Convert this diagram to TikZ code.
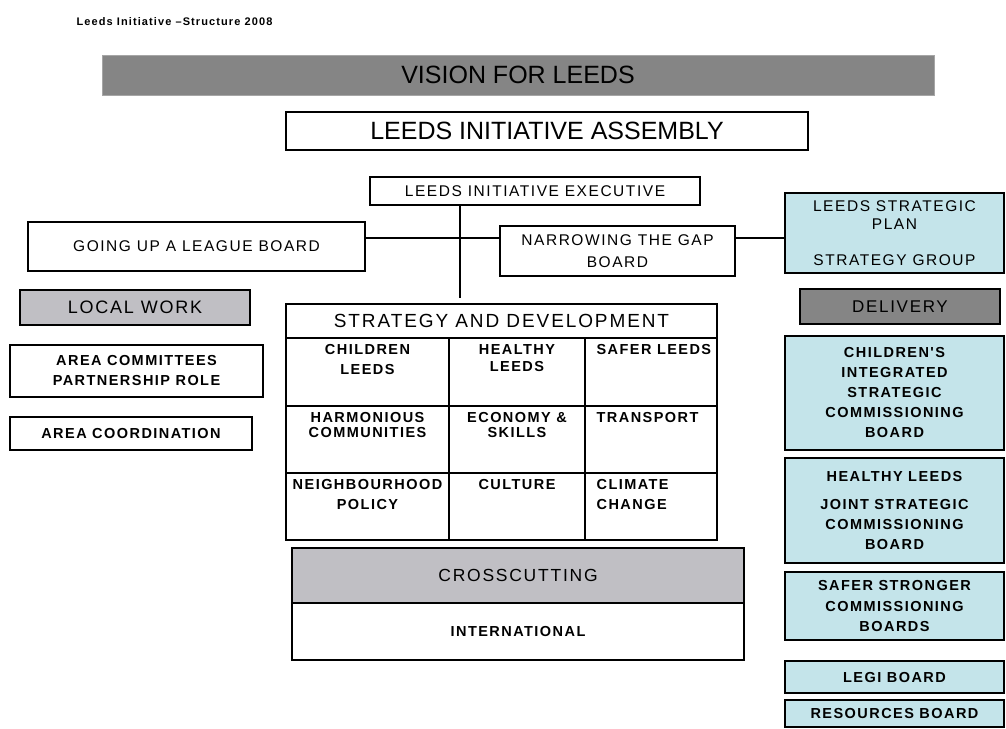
\documentclass[tikz,border=0pt]{standalone}
\usepackage{fontspec}
\setmainfont{Liberation Sans}
\newfontfamily\lsfont[LetterSpace=10]{Liberation Sans}
\definecolor{visiongrey}{RGB}{133,133,133}
\definecolor{palegrey}{RGB}{192,191,196}
\definecolor{paleblue}{RGB}{196,228,234}
\tikzset{
  bigtext/.style={font=\fontsize{25}{30}\selectfont},
  midtext/.style={font=\lsfont\fontsize{15.5}{22}\selectfont},
  headtext/.style={font=\lsfont\fontsize{17.5}{21}\selectfont},
  smalltext/.style={font=\lsfont\bfseries\fontsize{14.5}{20}\selectfont},
  plainbox/.style={draw=black, line width=1.2pt, fill=white, inner sep=0pt, align=center},
  greybox/.style={plainbox, fill=palegrey},
  darkbox/.style={plainbox, fill=visiongrey},
  bluebox/.style={plainbox, fill=paleblue, smalltext, minimum width=219pt},
  cellbox/.style={plainbox},
  celltext/.style={smalltext, align=center, anchor=north, yshift=-7pt, inner sep=0pt},
  cellleft/.style={celltext, anchor=north west, xshift=12pt, align=left}
}
\begin{document}
\begin{tikzpicture}[x=1pt, y=-1pt]
  \useasboundingbox (0,0) rectangle (1006,728);
  \node[anchor=west, font=\lsfont\bfseries\fontsize{11}{13}\selectfont] (title) at (73,22) {Leeds Initiative \textendash Structure 2008};

  \node[darkbox, draw=gray!70, line width=0.6pt, bigtext, minimum width=832pt, minimum height=40pt] (vision) at (518,75) {VISION FOR LEEDS};
  \node[plainbox, bigtext, minimum width=522pt, minimum height=38pt] (assembly) at (547,131) {LEEDS INITIATIVE ASSEMBLY};
  \node[plainbox, midtext, minimum width=330pt, minimum height=28pt] (executive) at (535,191) {LEEDS INITIATIVE EXECUTIVE};
  \node[plainbox, midtext, minimum width=337pt, minimum height=49pt] (goingup) at (196.5,246.5) {GOING UP A LEAGUE BOARD};
  \node[plainbox, midtext, minimum width=235pt, minimum height=50pt] (narrowing) at (617.5,251) {NARROWING THE GAP\\BOARD};
  \node[bluebox, midtext, font=\lsfont\fontsize{15.5}{18}\selectfont, minimum height=80pt] (plan) at (894.5,233) {LEEDS STRATEGIC\\PLAN\\[18pt]STRATEGY GROUP};

  \coordinate (hub) at (460,238);
  \coordinate (drop) at (460,298);
  \begin{scope}[line width=1.2pt]
    \draw (executive.south -| hub) -- (drop);
    \draw (goingup.east |- hub) -- (narrowing.west |- hub);
    \draw (narrowing.east |- hub) -- (plan.west |- hub);
  \end{scope}

  \node[greybox, headtext, font=\lsfont\fontsize{18}{21}\selectfont, minimum width=230pt, minimum height=35pt] (localwork) at (135,307.5) {LOCAL WORK};
  \node[plainbox, smalltext, minimum width=253pt, minimum height=52pt] (areacomm) at (136.5,371) {AREA COMMITTEES\\PARTNERSHIP ROLE};
  \node[plainbox, smalltext, minimum width=242pt, minimum height=33pt] (areacoord) at (131,433.5) {AREA COORDINATION};

  \node[plainbox, font=\lsfont\fontsize{19}{22}\selectfont, minimum width=431pt, minimum height=34pt] (strategy) at (501.5,321) {STRATEGY AND DEVELOPMENT};
  \node[cellbox, minimum width=163pt, minimum height=68pt, label={[celltext]north:{CHILDREN\\LEEDS}}] (children) at (367.5,372) {};
  \node[cellbox, minimum width=136pt, minimum height=68pt, label={[celltext]north:{HEALTHY\\[-3pt]LEEDS}}] (healthy) at (517,372) {};
  \node[cellbox, minimum width=132pt, minimum height=68pt, label={[cellleft]north west:{SAFER LEEDS}}] (safer) at (651,372) {};
  \node[cellbox, minimum width=163pt, minimum height=67pt, label={[celltext]north:{HARMONIOUS\\[-5pt]COMMUNITIES}}] (harmonious) at (367.5,439.5) {};
  \node[cellbox, minimum width=136pt, minimum height=67pt, label={[celltext]north:{ECONOMY \&\\[-5pt]SKILLS}}] (economy) at (517,439.5) {};
  \node[cellbox, minimum width=132pt, minimum height=67pt, label={[cellleft]north west:{TRANSPORT}}] (transport) at (651,439.5) {};
  \node[cellbox, minimum width=163pt, minimum height=67pt, label={[celltext]north:{NEIGHBOURHOOD\\POLICY}}] (neighbourhood) at (367.5,506.5) {};
  \node[cellbox, minimum width=136pt, minimum height=67pt, label={[celltext]north:{CULTURE}}] (culture) at (517,506.5) {};
  \node[cellbox, minimum width=132pt, minimum height=67pt, label={[cellleft]north west:{CLIMATE\\CHANGE}}] (climate) at (651,506.5) {};

  \node[greybox, headtext, minimum width=452pt, minimum height=55pt] (crosscut) at (518,575.5) {CROSSCUTTING};
  \node[plainbox, smalltext, minimum width=452pt, minimum height=57pt] (international) at (518,631.5) {INTERNATIONAL};

  \node[darkbox, headtext, font=\lsfont\fontsize{17}{21}\selectfont, minimum width=200pt, minimum height=35pt] (delivery) at (900,306.5) {DELIVERY};
  \node[bluebox, minimum height=114pt] (cisc) at (894.5,393) {CHILDREN'S\\INTEGRATED\\STRATEGIC\\COMMISSIONING\\BOARD};
  \node[bluebox, minimum height=105pt] (jscb) at (894.5,510.5) {HEALTHY LEEDS\\[8pt]JOINT STRATEGIC\\COMMISSIONING\\BOARD};
  \node[bluebox, minimum height=68pt] (sscb) at (894.5,606) {SAFER STRONGER\\COMMISSIONING\\BOARDS};
  \node[bluebox, minimum height=32pt] (legi) at (894.5,677) {LEGI BOARD};
  \node[bluebox, minimum height=27pt] (resources) at (894.5,713.5) {RESOURCES BOARD};
\end{tikzpicture}
\end{document}
